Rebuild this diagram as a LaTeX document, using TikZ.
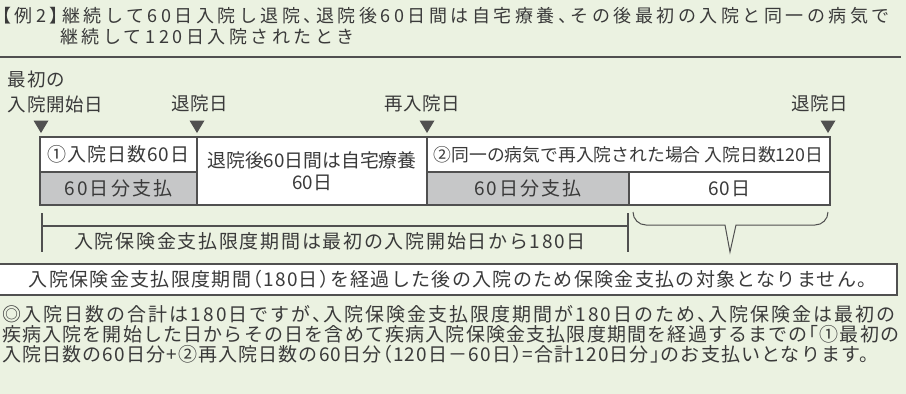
\documentclass[tikz,border=0pt]{standalone}
\usepackage{fontspec}
\setmainfont{Noto Sans CJK JP}[RawFeature=+halt]
\definecolor{bg}{HTML}{EBF2E1}
\definecolor{txt}{HTML}{3A3A3A}
\definecolor{gfill}{HTML}{C6C7C8}
\definecolor{ln}{HTML}{505050}
\newcommand{\fs}[2]{\fontsize{#1}{#1}\selectfont\addfontfeature{LetterSpace=#2}}
\begin{document}
\begin{tikzpicture}[x=1pt,y=-1pt,
  every node/.style={inner sep=0pt, outer sep=0pt, text=txt},
  ttl/.style={font={\fs{18}{19.5}}, anchor=west},
  lbl/.style={font={\fs{18.5}{3}}, anchor=center},
  cell/.style={draw=ln, line width=1.1pt, fill=white, anchor=north west, font={\fs{19}{5}}},
  gcell/.style={cell, fill=gfill, font={\fs{19}{11}}},
  para/.style={anchor=west},
  trimark/.style={fill=ln},
  bline/.style={draw=ln, line width=2pt},
  bracelin/.style={draw=ln, line width=1pt}]
\fill[bg] (0,0) rectangle (906,394);
\useasboundingbox (0,0) rectangle (906,394);
% title
\node[ttl] (t1) at (2,16) {【例2】継続して60日入院し退院、退院後60日間は自宅療養、その後最初の入院と同一の病気で};
\node[ttl] (t2) at (60,37) {継続して120日入院されたとき};
\coordinate (r1) at (0,57);
\coordinate (r2) at (901,57);
\draw[ln, line width=1.2pt] (r1) -- (r2);
% labels
\node[lbl, anchor=west] (l0a) at (8,79) {最初の};
\node[lbl, anchor=west] (l0b) at (8,104) {入院開始日};
\node[lbl] (l1) at (200,104) {退院日};
\node[lbl] (l2) at (422,104) {再入院日};
\node[lbl] (l3) at (820,104) {退院日};
% markers
\foreach \x/\n in {41/m0,197/m1,427/m2,828/m3}{
  \coordinate (\n) at (\x,133);
  \fill[trimark] (\n) -- ++(-7.5,-12.5) -- ++(15,0) -- cycle;
}
% boxes
\node[cell, minimum width=157, minimum height=35] (b1t) at (40,137) {①入院日数60日};
\node[gcell, minimum width=157, minimum height=33] (b1b) at (40,172) {60日分支払};
\node[cell, minimum width=230, minimum height=68, align=center, font={\fs{18.8}{0}}] (b2) at (197,137) {退院後60日間は自宅療養\\[3pt]60日};
\node[cell, minimum width=403, minimum height=35, font={\fs{17.8}{0}}] (b3t) at (427,137) {②同一の病気で再入院された場合 入院日数120日};
\node[gcell, minimum width=202, minimum height=33] (b3a) at (427,172) {60日分支払};
\node[cell, minimum width=201, minimum height=33] (b3b) at (629,172) {60日};
% bracket
\coordinate (k1) at (42,213);
\coordinate (k2) at (42,252);
\coordinate (k3) at (628,213);
\coordinate (k4) at (628,252);
\coordinate (k5) at (42,226);
\coordinate (k6) at (628,226);
\draw[bline] (k1) -- (k2);
\draw[bline] (k3) -- (k4);
\draw[bline] (k5) -- (k6);
\node[font={\fs{19}{9}}] (ktxt) at (330,241) {入院保険金支払限度期間は最初の入院開始日から180日};
% brace
\coordinate (c1) at (633,212);
\coordinate (c2) at (828,212);
\coordinate (ctip) at (730,252);
\draw[bracelin] (c1) to[out=-90,in=180] (646,225) -- (725,225) -- (ctip) -- (736,225) -- (815,225) to[out=0,in=-90] (c2);
% note box
\node[draw=ln, line width=1.1pt, fill=white, minimum width=898, minimum height=31, anchor=north west, font={\fs{19}{7}}] (note) at (-1,264) {入院保険金支払限度期間（180日）を経過した後の入院のため保険金支払の対象となりません。};
% paragraph
\node[para, font={\fs{19}{10.5}}] (p1) at (2,314) {◎入院日数の合計は180日ですが、入院保険金支払限度期間が180日のため、入院保険金は最初の};
\node[para, font={\fs{19}{6.2}}] (p2) at (2,334) {疾病入院を開始した日からその日を含めて疾病入院保険金支払限度期間を経過するまでの「①最初の};
\node[para, font={\fs{19}{6}}] (p3) at (2,354) {入院日数の60日分+②再入院日数の60日分（120日－60日）=合計120日分」のお支払いとなります。};
\end{tikzpicture}
\end{document}
